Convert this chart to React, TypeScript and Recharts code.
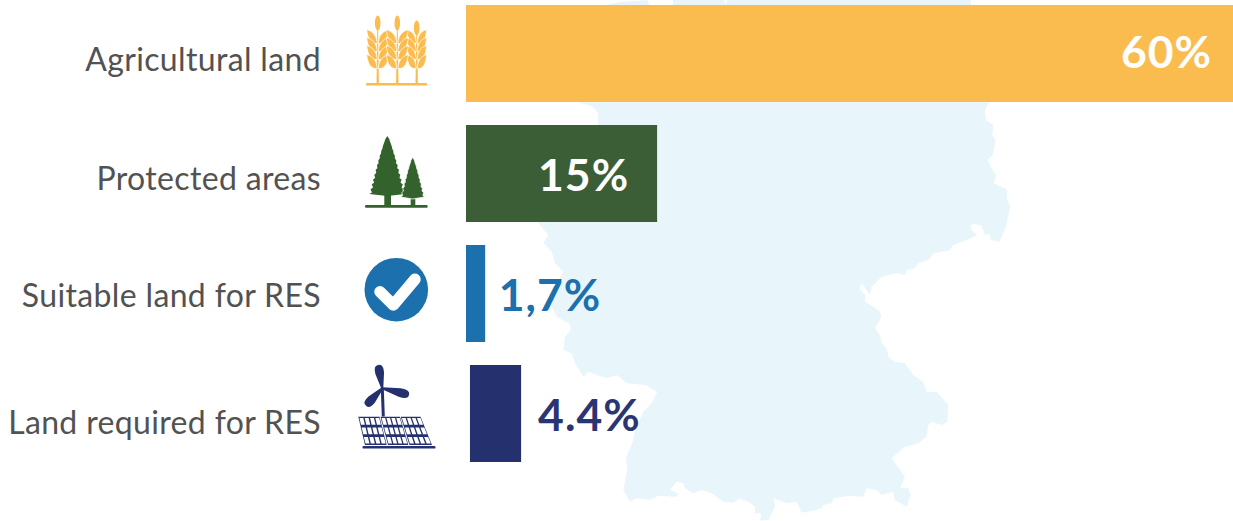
import { BarChart, Bar, XAxis, YAxis, Cell, LabelList } from "recharts";

const categories = ["Agricultural land", "Protected areas", "Suitable land for RES", "Land required for RES"];
// bars as drawn in the picture, which do not quite follow their printed labels
const barOffsets = [0, 0, 0, 0.31];
const barValues = [60, 14.95, 1.5, 4];
const valueLabels = ["60%", "15%", "1,7%", "4.4%"];

const barColors = ["#FBBC4F", "#3B5E36", "#1B70AD", "#24316E"];
const labelColors = ["#FFFFFF", "#FFFFFF", "#1B70AD", "#2A3673"];

// per row nudges, the original artwork is not evenly placed
const tickBaselines = [17.5, 17, 14, 20.5];
const labelBaselines = [14.5, 17.5, 17.5, 17.5];
const labelGaps = [-21, -28, 13.5, 17];

const chartData = categories.map((name, i) => ({
  name,
  offset: barOffsets[i],
  value: barValues[i],
  label: valueLabels[i],
}));

const FONT = "Lato, 'Noto Sans', sans-serif";

// background outline of Germany, traced at 3x from the picture
const mapOutline =
  "258,-285 300,-294 384,-300 387,-285 459,-285 459,-300 612,-300 618,-285 621,-300 1353,-300 1353,-285 " +
  "1408,5 1395,30 1398,60 1420,75 1417,105 1427,120 1418,165 1403,180 1415,205 1428,225 1422,250 1460,268 1462,300 1471,318 " +
  "1458,380 1438,425 1412,420 1410,402 1395,405 1385,378 1365,372 1352,375 1355,390 1372,405 1340,420 1300,435 1290,450 1240,460 " +
  "1225,480 1195,490 1185,505 1160,510 1155,525 1130,520 1085,530 1055,560 1050,585 1040,570 1025,550 1018,565 1035,585 1035,605 " +
  "1075,630 1085,650 1065,685 1080,705 1085,730 1100,745 1105,770 1125,785 1155,790 1180,825 1210,845 1220,875 1250,875 1285,915 " +
  "1282,965 1265,975 1235,965 1225,975 1220,1010 1195,1030 1155,1040 1115,1075 1155,1130 1140,1165 1165,1165 1172,1185 1160,1220 " +
  "1125,1200 1120,1175 1085,1185 1070,1170 1040,1165 1030,1190 985,1188 940,1195 935,1210 910,1215 905,1225 880,1232 845,1238 " +
  "830,1205 800,1210 760,1195 765,1220 745,1260 720,1262 725,1240 705,1240 705,1220 685,1205 660,1195 640,1208 610,1205 575,1180 " +
  "545,1170 520,1180 495,1165 490,1150 470,1145 450,1170 475,1180 470,1190 415,1187 390,1200 350,1195 330,1205 310,1170 322,1105 " +
  "318,1075 340,1020 345,990 370,935 395,910 412,875 375,855 320,850 290,825 260,835 230,825 205,815 190,830 165,790 155,760 " +
  "130,750 135,710 152,690 150,672 110,650 95,620 100,570 130,515 105,490 95,455 70,430 85,405 55,370 55,340 234,75 234,39 219,21 201,15 180,8 " +
  "100,-100";

const WheatStalk = ({ x, top, leaves, size }: { x: number; top: number; leaves: number[]; size: number }) => (
  <g fill="#FBBC4F">
    <path d={`M${x - 1.2} 31 L${x - 0.4} ${top + 10} L${x + 0.4} ${top + 10} L${x + 1.2} 31 Z`} />
    <ellipse cx={x} cy={top + 7} rx={2.8} ry={7.5} />
    {leaves.map((ly) => (
      <g key={ly} stroke="#fff" strokeWidth={0.7}>
        <path d={`M${x - 0.5} ${ly} C${x - 7} ${ly + 1} ${x - size} ${ly - 5} ${x - size - 1} ${ly - 14} C${x - size + 6} ${ly - 12} ${x - 1} ${ly - 7} ${x - 0.5} ${ly} Z`} />
        <path d={`M${x + 0.5} ${ly} C${x + 7} ${ly + 1} ${x + size} ${ly - 5} ${x + size + 1} ${ly - 14} C${x + size - 6} ${ly - 12} ${x + 1} ${ly - 7} ${x + 0.5} ${ly} Z`} />
      </g>
    ))}
  </g>
);

const WheatIcon = () => (
  <g>
    <WheatStalk x={20.7} top={-32.5} leaves={[-10, -2, 6, 15]} size={9} />
    <WheatStalk x={-18.3} top={-37.5} leaves={[-10, -2, 6, 15]} size={10} />
    <WheatStalk x={1.3} top={-37.5} leaves={[-10, -2, 6, 15]} size={10} />
    <rect x={-30} y={29.5} width={61} height={2.6} rx={1.2} fill="#FBBC4F" />
  </g>
);

const treePoints = (cx: number, top: number, bottom: number, half: number, steps: number) => {
  const left: string[] = [];
  const right: string[] = [];
  for (let i = 1; i <= steps; i++) {
    const w = half * Math.pow(i / steps, 0.8);
    const y = top + ((bottom - top) * i) / steps;
    const inner = y - (bottom - top) / steps / 3;
    right.push(`${cx + w * 0.85},${inner} ${cx + w},${y}`);
    left.unshift(`${cx - w},${y} ${cx - w * 0.85},${inner}`);
  }
  return `${cx},${top} ${right.join(" ")} ${cx},${bottom + 2} ${left.join(" ")}`;
};

const TreeIcon = () => (
  <g fill="#33622C">
    <rect x={14.7} y={20} width={4.6} height={13} />
    <rect x={-11.7} y={18} width={6.7} height={15} />
    <polygon points={treePoints(-8.7, -37.5, 20.5, 18, 12)} />
    <polygon points={treePoints(16.7, -16.2, 23.5, 12, 9)} stroke="#fff" strokeWidth={0.8} />
    <rect x={-31} y={31.5} width={62.7} height={2.8} rx={1.2} />
  </g>
);

const CheckIcon = () => (
  <g>
    <circle cx={0.3} cy={-3.8} r={31.8} fill="#1B70AD" />
    <polyline points="-16,-1.8 -2.7,11.5 19,-14.2" fill="none" stroke="#fff" strokeWidth={11.5} strokeLinecap="round" strokeLinejoin="round" />
  </g>
);

const bladeTips = [
  [-17.7, -48.5],
  [13, -18.8],
  [-30, -7.8],
];
const panels = [
  [[-37.7, 3.2], [-16.5, 3.2], [-9.3, 31.5], [-31, 31.5]],
  [[-15.5, 3.2], [4, 3.2], [12.3, 31.5], [-8, 31.5]],
  [[4.8, 3.2], [24.5, 3.2], [36, 31.5], [13.5, 31.5]],
];
const lerp = (a: number[], b: number[], t: number) => [a[0] + (b[0] - a[0]) * t, a[1] + (b[1] - a[1]) * t];

const panelCells = (p: number[][]) => {
  const cells: string[] = [];
  const at = (u: number, v: number) => lerp(lerp(p[0], p[1], u), lerp(p[3], p[2], u), v);
  for (let r = 0; r < 3; r++) {
    for (let c = 0; c < 4; c++) {
      const u0 = (c + 0.15) / 4;
      const u1 = (c + 0.88) / 4;
      const v0 = (r + 0.15) / 3;
      const v1 = (r + 0.85) / 3;
      cells.push([at(u0, v0), at(u1, v0), at(u1, v1), at(u0, v1)].map((q) => q.join(",")).join(" "));
    }
  }
  return cells;
};

// teardrop blade, thin at the hub and fat near the tip
const bladePath = (hub: number[], tip: number[]) => {
  const dx = tip[0] - hub[0];
  const dy = tip[1] - hub[1];
  const len = Math.hypot(dx, dy);
  const nx = -dy / len;
  const ny = dx / len;
  const pt = (t: number, w: number) => `${hub[0] + dx * t + nx * w} ${hub[1] + dy * t + ny * w}`;
  return `M${pt(0, 1)} L${pt(0.65, 4.4)} Q${pt(1.02, 5.2)} ${pt(1, 0)} Q${pt(1.02, -5.2)} ${pt(0.65, -4.4)} L${pt(0, -1)} Z`;
};

const TurbineIcon = () => {
  const hub = [-13.7, -25.2];
  return (
    <g fill="#24316E">
      <line x1={hub[0]} y1={hub[1]} x2={-12.7} y2={3} stroke="#24316E" strokeWidth={3} />
      {bladeTips.map((tip, i) => (
        <path key={i} d={bladePath(hub, tip)} />
      ))}
      {panels.map((p, i) => (
        <g key={i}>
          <polygon points={p.map((q) => q.join(",")).join(" ")} />
          {panelCells(p).map((pts, j) => (
            <polygon key={j} points={pts} fill="#fff" />
          ))}
        </g>
      ))}
      <rect x={-33.5} y={32.5} width={73} height={2.6} rx={1.2} />
    </g>
  );
};

const icons = [<WheatIcon />, <TreeIcon />, <CheckIcon />, <TurbineIcon />];

const CategoryTick = ({ y, payload, index }: any) => (
  <g>
    <text x={321} y={y + tickBaselines[index]} textAnchor="end" fontFamily={FONT} fontSize={32} letterSpacing={0.35} fill="#525252">
      {payload.value}
    </text>
    <g transform={`translate(396, ${y + 0.5})`}>{icons[index]}</g>
  </g>
);

const ValueLabel = ({ x, y, width, height, value, index }: any) => {
  const gap = labelGaps[index];
  return (
    <text
      x={x + width + gap}
      y={y + height / 2 + labelBaselines[index]}
      textAnchor={gap < 0 ? "end" : "start"}
      fontFamily={FONT}
      fontSize={44.5}
      letterSpacing={1}
      fontWeight={700}
      fill={labelColors[index]}
    >
      {value}
    </text>
  );
};

export default function App() {
  return (
    <div style={{ position: "absolute", left: 0, top: 0, width: 1233, height: 521, overflow: "hidden", background: "#fff" }}>
      <svg width={1233} height={521} style={{ position: "absolute", left: 0, top: 0 }}>
        <g transform="translate(520,100) scale(0.3333)">
          <polygon points={mapOutline} fill="#E8F6FB" />
        </g>
      </svg>
      <div style={{ position: "absolute", left: 0, top: -7 }}>
        <BarChart
          width={1233}
          height={528}
          data={chartData}
          layout="vertical"
          margin={{ top: 0, right: 0, bottom: 48, left: 0 }}
          barSize={97}
        >
          <XAxis type="number" domain={[0, 60]} hide />
          <YAxis
            type="category"
            dataKey="name"
            width={466}
            axisLine={false}
            tickLine={false}
            interval={0}
            tick={<CategoryTick />}
          />
          <Bar dataKey="offset" stackId="land" fill="transparent" isAnimationActive={false} />
          <Bar dataKey="value" stackId="land" isAnimationActive={false}>
            {chartData.map((d, i) => (
              <Cell key={d.name} fill={barColors[i]} />
            ))}
            <LabelList dataKey="label" content={<ValueLabel />} />
          </Bar>
        </BarChart>
      </div>
    </div>
  );
}
